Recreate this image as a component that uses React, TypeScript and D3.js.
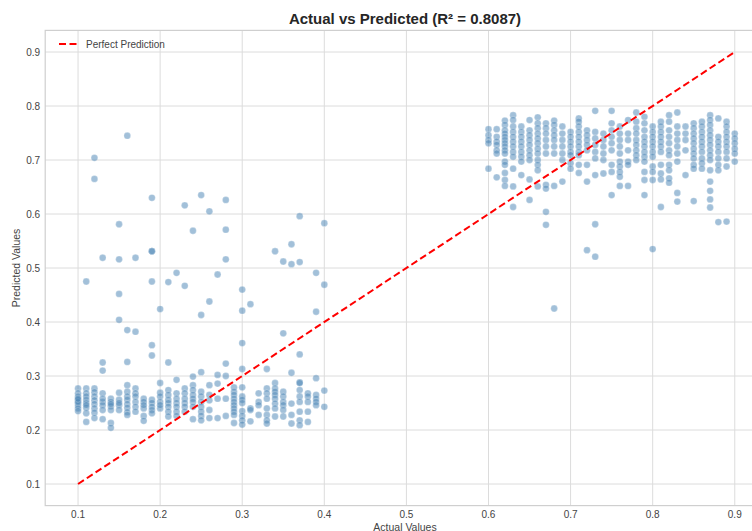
import React from "react";
import * as d3 from "d3";

const lowActual = [0.10,0.11,0.12,0.13,0.14,0.15,0.16,0.17,0.18,0.19,0.20,0.21,0.22,0.23,0.24,0.25,0.26,0.27,0.28,0.29,0.30,0.31,0.32,0.33,0.34,0.35,0.36,0.37,0.38,0.39,0.40];
const lowPredicted: number[][] = [
  [0.277,0.268,0.262,0.256,0.25,0.245,0.24,0.235,0.252,0.258],
  [0.475,0.277,0.268,0.262,0.256,0.25,0.241,0.231,0.215,0.246],
  [0.704,0.665,0.277,0.27,0.262,0.255,0.248,0.24,0.232,0.222],
  [0.519,0.325,0.31,0.268,0.252,0.246,0.237,0.22,0.258],
  [0.258,0.252,0.244,0.237,0.213,0.204,0.248],
  [0.581,0.516,0.452,0.404,0.269,0.256,0.246,0.237,0.25],
  [0.745,0.385,0.326,0.283,0.271,0.262,0.256,0.248,0.241,0.233,0.228],
  [0.519,0.382,0.277,0.268,0.262,0.252,0.243,0.234],
  [0.258,0.252,0.24,0.226,0.217,0.246],
  [0.63,0.531,0.531,0.475,0.357,0.338,0.256,0.25,0.243,0.237,0.231],
  [0.424,0.287,0.269,0.262,0.252,0.24,0.246],
  [0.474,0.325,0.274,0.265,0.256,0.25,0.243,0.234,0.225],
  [0.491,0.293,0.268,0.258,0.25,0.243,0.234,0.226],
  [0.616,0.467,0.277,0.268,0.258,0.25,0.243,0.234],
  [0.569,0.299,0.283,0.274,0.265,0.258,0.252,0.243,0.22],
  [0.635,0.413,0.307,0.271,0.262,0.252,0.243,0.234,0.226,0.218],
  [0.605,0.438,0.283,0.265,0.255,0.237,0.222],
  [0.488,0.302,0.286,0.258,0.222],
  [0.626,0.571,0.516,0.323,0.30,0.258,0.226],
  [0.279,0.271,0.265,0.258,0.252,0.246,0.24,0.234,0.228,0.213],
  [0.46,0.421,0.361,0.313,0.279,0.262,0.256,0.25,0.235,0.226,0.218,0.21],
  [0.433,0.24,0.237,0.216],
  [0.268,0.252,0.246,0.228],
  [0.313,0.277,0.268,0.258,0.24,0.228,0.218,0.212],
  [0.531,0.287,0.277,0.271,0.265,0.258,0.249,0.24,0.225],
  [0.512,0.379,0.271,0.262,0.252,0.246,0.237,0.225],
  [0.544,0.507,0.306,0.249,0.228,0.212],
  [0.596,0.511,0.34,0.288,0.287,0.274,0.262,0.252,0.234,0.218,0.209],
  [0.268,0.262,0.252,0.234,0.215],
  [0.491,0.419,0.296,0.265,0.258,0.252,0.246],
  [0.583,0.469,0.273,0.243],
];

const highActual = [0.60,0.61,0.62,0.63,0.64,0.65,0.66,0.67,0.68,0.69,0.70,0.71,0.72,0.73,0.74,0.75,0.76,0.77,0.78,0.79,0.80,0.81,0.82,0.83,0.84,0.85,0.86,0.87,0.88,0.89,0.90];
const highPredicted: number[][] = [
  [0.757,0.746,0.737,0.731,0.684],
  [0.757,0.743,0.734,0.728,0.718,0.712,0.668],
  [0.773,0.765,0.755,0.749,0.743,0.737,0.731,0.725,0.718,0.712,0.697,0.691,0.676,0.663,0.652],
  [0.783,0.774,0.762,0.752,0.743,0.734,0.725,0.715,0.706,0.684,0.651,0.613],
  [0.762,0.752,0.743,0.734,0.725,0.715,0.706,0.697,0.672],
  [0.774,0.755,0.746,0.737,0.728,0.718,0.709,0.70,0.664,0.626],
  [0.779,0.768,0.759,0.749,0.74,0.731,0.721,0.712,0.70,0.691,0.681,0.651],
  [0.768,0.759,0.749,0.737,0.725,0.712,0.654,0.647,0.604,0.58],
  [0.773,0.765,0.755,0.746,0.737,0.725,0.712,0.652,0.425],
  [0.762,0.749,0.737,0.725,0.712,0.70,0.66],
  [0.752,0.743,0.734,0.725,0.715,0.709,0.694,0.684],
  [0.777,0.771,0.762,0.752,0.743,0.734,0.725,0.715,0.709,0.691,0.676],
  [0.755,0.746,0.737,0.728,0.718,0.691,0.66,0.533],
  [0.791,0.752,0.74,0.728,0.715,0.703,0.672,0.581,0.521],
  [0.749,0.737,0.725,0.712,0.70,0.675],
  [0.791,0.768,0.755,0.743,0.731,0.718,0.691,0.678,0.635],
  [0.762,0.749,0.737,0.725,0.712,0.697,0.688,0.678,0.669,0.652],
  [0.774,0.749,0.737,0.718,0.697,0.691,0.652],
  [0.788,0.771,0.759,0.749,0.737,0.728,0.718,0.709,0.70],
  [0.78,0.768,0.755,0.743,0.734,0.725,0.715,0.706,0.697,0.678,0.663,0.635],
  [0.762,0.752,0.743,0.734,0.725,0.715,0.706,0.688,0.678,0.663,0.535],
  [0.771,0.762,0.752,0.743,0.734,0.725,0.715,0.691,0.675,0.664,0.613],
  [0.783,0.771,0.755,0.743,0.731,0.718,0.709,0.691,0.681,0.666,0.658],
  [0.788,0.762,0.749,0.737,0.725,0.712,0.697,0.639,0.623],
  [0.762,0.749,0.737,0.718,0.672],
  [0.768,0.759,0.749,0.74,0.731,0.721,0.712,0.703,0.691,0.684,0.624],
  [0.771,0.762,0.752,0.743,0.734,0.725,0.715,0.703,0.694,0.684],
  [0.783,0.774,0.765,0.755,0.746,0.737,0.728,0.718,0.709,0.70,0.681,0.66,0.643,0.627,0.612],
  [0.777,0.743,0.734,0.725,0.715,0.703,0.691,0.681,0.585],
  [0.771,0.762,0.752,0.743,0.734,0.725,0.715,0.703,0.688,0.586],
  [0.749,0.74,0.731,0.721,0.712,0.697],
];

const tickValues = [0.1,0.2,0.3,0.4,0.5,0.6,0.7,0.8,0.9];
const perfectLine = [0.1, 0.9];
const titleText = "Actual vs Predicted (R² = 0.8087)";
const legendLabel = "Perfect Prediction";
const xLabel = "Actual Values";
const yLabel = "Predicted Values";

const W = 752, H = 531;
const FONT = "'Liberation Sans', Arial, sans-serif";

export default function App() {
  const x = d3.scaleLinear().domain([0.06, 0.94]).range([45.2, 767.6]);
  const y = d3.scaleLinear().domain([0.06, 0.94]).range([505.6, 30.4]);
  const [x0, x1] = x.range();
  const [y0, y1] = y.range();

  const points: { a: number; p: number }[] = [];
  lowActual.forEach((a, i) => lowPredicted[i].forEach((p) => points.push({ a, p })));
  highActual.forEach((a, i) => highPredicted[i].forEach((p) => points.push({ a, p })));

  const line = d3.line<number>().x((d) => x(d)).y((d) => y(d));

  return (
    <svg width={W} height={H} style={{ position: "absolute", left: 0, top: 0, background: "#fff" }} fontFamily={FONT}>
      <rect x={0} y={0} width={W} height={H} fill="#fff" />
      <defs>
        <clipPath id="plotclip">
          <rect x={x0} y={y1} width={x1 - x0} height={y0 - y1} />
        </clipPath>
      </defs>
      {tickValues.map((t) => (
        <line key={"gx" + t} x1={x(t)} x2={x(t)} y1={y1} y2={y0} stroke="#dcdcdc" strokeWidth={1} />
      ))}
      {tickValues.map((t) => (
        <line key={"gy" + t} x1={x0} x2={x1} y1={y(t)} y2={y(t)} stroke="#dcdcdc" strokeWidth={1} />
      ))}
      <rect x={x0} y={y1} width={x1 - x0} height={y0 - y1} fill="none" stroke="#cfcfcf" strokeWidth={1.2} />
      <g clipPath="url(#plotclip)">
        {points.map((d, i) => (
          <circle key={i} cx={x(d.a)} cy={y(d.p)} r={3.4} fill="#4682b4" fillOpacity={0.5} stroke="#ffffff" strokeOpacity={0.5} strokeWidth={0.5} />
        ))}
        <path d={line(perfectLine) || ""} fill="none" stroke="#ff0000" strokeWidth={2} strokeDasharray="7,3.5" />
      </g>
      {tickValues.map((t) => (
        <text key={"tx" + t} x={x(t)} y={y0 + 12} textAnchor="middle" fontSize={10} fill="#444">
          {t.toFixed(1)}
        </text>
      ))}
      {tickValues.map((t) => (
        <text key={"ty" + t} x={x0 - 5} y={y(t) + 3.5} textAnchor="end" fontSize={10} fill="#444">
          {t.toFixed(1)}
        </text>
      ))}
      <text x={405} y={24} textAnchor="middle" fontSize={15} fontWeight="bold" fill="#262626">
        {titleText}
      </text>
      <text x={405} y={530.5} textAnchor="middle" fontSize={10.5} fill="#444">
        {xLabel}
      </text>
      <text transform={`translate(20,${(y0 + y1) / 2}) rotate(-90)`} textAnchor="middle" fontSize={10.5} fill="#444">
        {yLabel}
      </text>
      <line x1={59} x2={79} y1={44} y2={44} stroke="#ff0000" strokeWidth={2} strokeDasharray="7,3.5" />
      <text x={86} y={47.5} fontSize={10} fill="#444">
        {legendLabel}
      </text>
    </svg>
  );
}
